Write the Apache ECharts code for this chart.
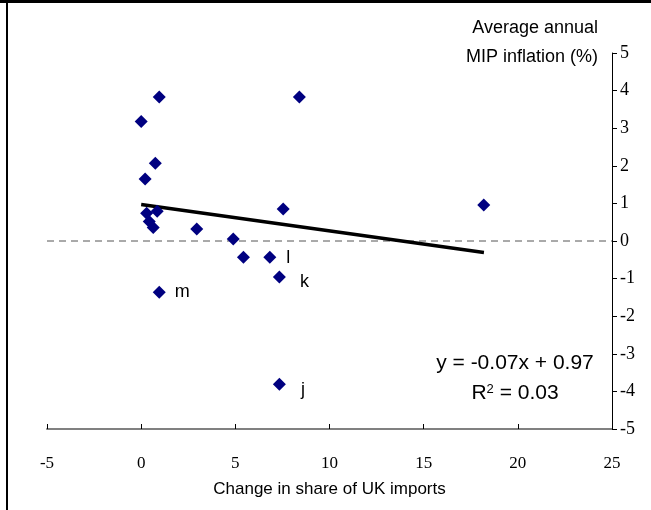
<!DOCTYPE html>
<html>
<head>
<meta charset="utf-8">
<script src="https://cdn.jsdelivr.net/npm/echarts@6/dist/echarts.min.js"></script>
<style>
  html, body { margin: 0; padding: 0; background: #fff; }
  #chart { width: 651px; height: 510px; }
</style>
</head>
<body>
<div id="chart"></div>
<script>
// Change in share of UK imports (x) vs average annual MIP inflation (y)
const shareChange = [0.96, 8.40, 0.00, 0.75, 0.21, 0.29, 0.85, 0.43, 0.64, 2.95, 4.89, 5.43, 6.83, 7.54, 7.34, 0.96, 18.19, 7.34];
const mipInflation = [3.83, 3.83, 3.18, 2.07, 1.65, 0.74, 0.79, 0.52, 0.36, 0.32, 0.05, -0.43, -0.43, 0.85, -0.96, -1.36, 0.96, -3.81];
const pointTags = ['', '', '', '', '', '', '', '', '', '', '', '', 'l', '', 'k', 'm', '', 'j'];

// Linear trend as reported on the chart
const trendSlope = -0.07;
const trendIntercept = 0.97;
const trendRange = [0, 18.2];

const xTicks = [-5, 0, 5, 10, 15, 20, 25];
const yTicks = [-5, -4, -3, -2, -1, 0, 1, 2, 3, 4, 5];

const serifFont = '"Liberation Serif", "Times New Roman", serif';
const sansFont = '"Liberation Sans", Arial, sans-serif';

// label placement for the tagged points
const tagStyle = {
  l: { distance: 10, offset: [0, 1] },
  k: { distance: 14, offset: [0, 5] },
  m: { distance: 9, offset: [0, 0] },
  j: { distance: 15, offset: [0, 6] }
};

const points = shareChange.map((x, i) => {
  const item = { value: [x, mipInflation[i]] };
  const tag = pointTags[i];
  if (tag) {
    item.label = {
      show: true,
      formatter: tag,
      position: 'right',
      distance: tagStyle[tag].distance,
      offset: tagStyle[tag].offset,
      fontFamily: sansFont,
      fontSize: 18,
      color: '#000'
    };
  }
  return item;
});

const trendLine = trendRange.map(x => [x, trendSlope * x + trendIntercept]);

const chart = echarts.init(document.getElementById('chart'), null, { renderer: 'canvas' });

chart.setOption({
  animation: false,
  backgroundColor: '#fff',
  grid: { left: 47, right: 39, top: 53, bottom: 81 },
  xAxis: {
    type: 'value',
    min: xTicks[0],
    max: xTicks[xTicks.length - 1],
    interval: 5,
    name: 'Change in share of UK imports',
    nameLocation: 'middle',
    nameGap: 52,
    nameTextStyle: { fontFamily: sansFont, fontSize: 17, color: '#000' },
    axisLine: { onZero: false, lineStyle: { color: '#808080', width: 2 } },
    axisTick: { inside: true, length: 5, lineStyle: { color: '#000', width: 1 } },
    axisLabel: { fontFamily: serifFont, fontSize: 17, color: '#000', margin: 26 },
    splitLine: { show: false }
  },
  yAxis: {
    type: 'value',
    position: 'right',
    min: yTicks[0],
    max: yTicks[yTicks.length - 1],
    interval: 1,
    axisLine: { show: true, onZero: false, lineStyle: { color: '#000', width: 1 } },
    axisTick: { show: true, length: 5, lineStyle: { color: '#000', width: 1 } },
    axisLabel: { fontFamily: serifFont, fontSize: 18, color: '#000', margin: 8 },
    splitLine: { show: false }
  },
  series: [
    {
      type: 'line',
      data: [[xTicks[0], 0], [xTicks[xTicks.length - 1], 0]],
      symbol: 'none',
      silent: true,
      lineStyle: { color: '#555', width: 1, type: [7, 5] },
      z: 1
    },
    {
      type: 'line',
      data: trendLine,
      symbol: 'none',
      silent: true,
      lineStyle: { color: '#000', width: 3.5 },
      z: 3
    },
    {
      type: 'scatter',
      data: points,
      symbol: 'diamond',
      symbolSize: [13, 13],
      itemStyle: { color: '#000080', opacity: 1 },
      z: 4
    }
  ],
  graphic: [
    { type: 'line', shape: { x1: 0, y1: 1.5, x2: 651, y2: 1.5 }, style: { stroke: '#000', lineWidth: 3 } },
    { type: 'line', shape: { x1: 7, y1: 0, x2: 7, y2: 510 }, style: { stroke: '#000', lineWidth: 2 } },
    {
      type: 'text', x: 598, y: 28,
      style: { text: 'Average annual', align: 'right', verticalAlign: 'middle', fontFamily: sansFont, fontSize: 18, fill: '#000' }
    },
    {
      type: 'text', x: 598, y: 57,
      style: { text: 'MIP inflation (%)', align: 'right', verticalAlign: 'middle', fontFamily: sansFont, fontSize: 18, fill: '#000' }
    },
    {
      type: 'text', x: 515, y: 363,
      style: { text: 'y = -0.07x + 0.97', align: 'center', verticalAlign: 'middle', fontFamily: sansFont, fontSize: 21, fill: '#000' }
    },
    {
      type: 'text', x: 515, y: 393,
      style: {
        text: '{r|R}{s|2}{r| = 0.03}',
        align: 'center',
        verticalAlign: 'middle',
        rich: {
          r: { fontFamily: sansFont, fontSize: 21, fill: '#000' },
          s: { fontFamily: sansFont, fontSize: 13, fill: '#000', verticalAlign: 'top', padding: [0, 0, 8, 0] }
        }
      }
    }
  ]
});
</script>
</body>
</html>
